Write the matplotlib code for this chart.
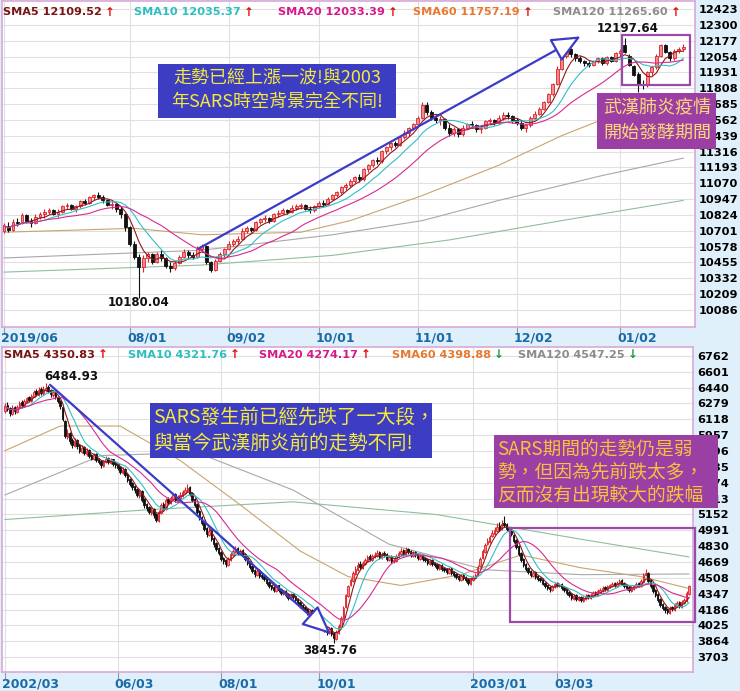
import numpy as np
import pandas as pd
import matplotlib
matplotlib.use('Agg')
import matplotlib.pyplot as plt
from matplotlib.patches import Rectangle, FancyArrowPatch
from matplotlib.transforms import ScaledTranslation

W, H = 740, 691
CJK = ['Noto Sans CJK TC', 'DejaVu Sans']

# 上圖: 2019/06 ~ 2020/01 加權指數 (日K)
top_open = [
    10700, 10740, 10710, 10770, 10760, 10820, 10780, 10760, 10810, 10830,
    10850, 10860, 10830, 10850, 10890, 10900, 10870, 10890, 10930, 10920,
    10960, 10980, 10960, 10940, 10900, 10910, 10870, 10830, 10730, 10600,
    10500, 10420, 10490, 10520, 10460, 10520, 10490, 10430, 10410, 10450,
    10500, 10540, 10510, 10500, 10560, 10580, 10460, 10400, 10470, 10520,
    10560, 10600, 10620, 10640, 10700, 10720, 10710, 10770, 10790, 10800,
    10780, 10830, 10840, 10860, 10850, 10880, 10890, 10900, 10870, 10860,
    10890, 10920, 10910, 10950, 10980, 11000, 11040, 11060, 11090, 11120,
    11100, 11180, 11210, 11250, 11240, 11320, 11350, 11380, 11370, 11430,
    11460, 11500, 11530, 11580, 11680, 11620, 11580, 11560, 11570, 11500,
    11460, 11490, 11450, 11500, 11530, 11520, 11490, 11500, 11550, 11560,
    11540, 11580, 11600, 11590, 11560, 11540, 11500, 11520, 11580, 11610,
    11650, 11700, 11760, 11840, 11960, 12060, 12110, 12070, 12040, 12020,
    12000, 11990, 12020, 12040, 12000, 12050, 12020, 12080, 12140, 12060,
    11980, 11920, 11840, 11830, 11930, 11970, 12060, 12140, 12090, 12040,
    12100, 12110]
top_high = [
    10760, 10770, 10790, 10800, 10840, 10830, 10800, 10830, 10850, 10870,
    10880, 10870, 10870, 10900, 10920, 10910, 10900, 10940, 10950, 10970,
    10990, 11000, 10980, 10950, 10930, 10920, 10890, 10840, 10740, 10620,
    10520, 10510, 10540, 10530, 10540, 10550, 10500, 10460, 10470, 10510,
    10560, 10550, 10540, 10580, 10600, 10590, 10470, 10480, 10540, 10570,
    10620, 10640, 10660, 10720, 10740, 10730, 10780, 10800, 10820, 10810,
    10840, 10860, 10880, 10870, 10900, 10910, 10920, 10910, 10890, 10900,
    10930, 10940, 10960, 10990, 11010, 11050, 11070, 11100, 11130, 11140,
    11190, 11220, 11260, 11270, 11330, 11360, 11390, 11400, 11440, 11480,
    11510, 11540, 11590, 11700, 11700, 11640, 11600, 11590, 11580, 11530,
    11510, 11500, 11520, 11540, 11550, 11530, 11520, 11560, 11580, 11570,
    11600, 11620, 11620, 11600, 11580, 11560, 11530, 11590, 11630, 11660,
    11710, 11770, 11850, 11980, 12080, 12130, 12120, 12080, 12060, 12030,
    12020, 12030, 12050, 12050, 12060, 12060, 12090, 12110, 12198, 12070,
    11990, 11930, 11870, 11940, 11980, 12070, 12150, 12150, 12100, 12110,
    12130, 12150]
top_low = [
    10680, 10690, 10700, 10740, 10750, 10760, 10730, 10750, 10790, 10800,
    10830, 10820, 10810, 10840, 10870, 10860, 10850, 10880, 10900, 10910,
    10940, 10950, 10920, 10890, 10870, 10850, 10800, 10700, 10580, 10480,
    10180, 10380, 10460, 10440, 10450, 10470, 10410, 10380, 10400, 10440,
    10490, 10490, 10480, 10490, 10540, 10440, 10380, 10390, 10460, 10500,
    10550, 10580, 10600, 10630, 10680, 10690, 10700, 10750, 10770, 10760,
    10770, 10810, 10830, 10830, 10840, 10860, 10870, 10860, 10840, 10850,
    10880, 10890, 10900, 10940, 10960, 10990, 11020, 11040, 11070, 11080,
    11090, 11160, 11200, 11220, 11230, 11300, 11330, 11350, 11360, 11410,
    11440, 11480, 11510, 11570, 11600, 11560, 11540, 11520, 11480, 11440,
    11440, 11430, 11440, 11490, 11500, 11470, 11460, 11490, 11530, 11520,
    11530, 11560, 11570, 11540, 11520, 11480, 11470, 11510, 11570, 11600,
    11640, 11690, 11750, 11830, 11950, 12040, 12050, 12020, 12000, 11980,
    11970, 11980, 12000, 11990, 11990, 12010, 12010, 12060, 12080, 11980,
    11900, 11780, 11800, 11820, 11910, 11960, 12050, 12080, 12020, 12030,
    12080, 12100]
top_close = [
    10740, 10710, 10770, 10760, 10820, 10780, 10760, 10810, 10830, 10850,
    10860, 10830, 10850, 10890, 10900, 10870, 10890, 10930, 10920, 10960,
    10980, 10960, 10940, 10900, 10910, 10870, 10830, 10730, 10600, 10500,
    10420, 10490, 10520, 10460, 10520, 10490, 10430, 10410, 10450, 10500,
    10540, 10510, 10500, 10560, 10580, 10460, 10400, 10470, 10520, 10560,
    10600, 10620, 10640, 10700, 10720, 10710, 10770, 10790, 10800, 10780,
    10830, 10840, 10860, 10850, 10880, 10890, 10900, 10870, 10860, 10890,
    10920, 10910, 10950, 10980, 11000, 11040, 11060, 11090, 11120, 11100,
    11180, 11210, 11250, 11240, 11320, 11350, 11380, 11370, 11430, 11460,
    11500, 11530, 11580, 11680, 11620, 11580, 11560, 11570, 11500, 11460,
    11490, 11450, 11500, 11530, 11520, 11490, 11500, 11550, 11560, 11540,
    11580, 11600, 11590, 11560, 11540, 11500, 11520, 11580, 11610, 11650,
    11700, 11760, 11840, 11960, 12060, 12110, 12070, 12040, 12020, 12000,
    11990, 12020, 12040, 12000, 12050, 12020, 12080, 12100, 12090, 11990,
    11910, 11840, 11830, 11930, 11970, 12060, 12140, 12090, 12040, 12100,
    12110, 12130]

# 長天期均線 (讀圖取樣: 第幾根K棒, 數值)
top_ma60_idx = [0, 29, 44, 66, 77, 93, 110, 124, 137, 151]
top_ma60 = [10690, 10720, 10670, 10690, 10780, 10975, 11210, 11440, 11620, 11757]
top_ma120_idx = [0, 44, 73, 93, 110, 133, 151]
top_ma120 = [10490, 10550, 10670, 10780, 10937, 11130, 11265]
top_ma240_idx = [0, 44, 73, 99, 124, 151]
top_ma240 = [10380, 10435, 10510, 10630, 10780, 10937]

top_yticks = [12423, 12300, 12177, 12054, 11931, 11808, 11685, 11562, 11439, 11316,
              11193, 11070, 10947, 10824, 10701, 10578, 10455, 10332, 10209, 10086]
top_tick_pos = [0, 28, 50, 70, 92, 114, 137]
top_tick_labels = ['2019/06', '08/01', '09/02', '10/01', '11/01', '12/02', '01/02']

# 下圖: 2002/03 ~ 2003/05 (SARS 期間)
bot_open = [
    6200, 6260, 6230, 6170, 6240, 6190, 6240, 6290, 6250, 6290,
    6340, 6300, 6350, 6410, 6370, 6430, 6380, 6420, 6450, 6420,
    6370, 6400, 6350, 6300, 6240, 6100, 5940, 5980, 5910, 5850,
    5910, 5860, 5790, 5840, 5770, 5810, 5760, 5710, 5770, 5710,
    5690, 5640, 5680, 5730, 5670, 5710, 5670, 5660, 5630, 5570,
    5610, 5560, 5510, 5470, 5440, 5410, 5340, 5390, 5310, 5260,
    5230, 5170, 5210, 5160, 5090, 5170, 5260, 5210, 5310, 5270,
    5310, 5360, 5290, 5320, 5340, 5370, 5390, 5430, 5370, 5310,
    5260, 5190, 5130, 5070, 5010, 4940, 4990, 4910, 4860, 4810,
    4770, 4710, 4690, 4640, 4690, 4740, 4770, 4810, 4750, 4790,
    4750, 4710, 4670, 4630, 4590, 4540, 4590, 4540, 4530, 4510,
    4470, 4430, 4410, 4370, 4430, 4390, 4340, 4370, 4340, 4290,
    4340, 4320, 4290, 4260, 4230, 4210, 4190, 4140, 4180, 4130,
    4090, 4040, 4070, 4030, 3990, 3950, 4000, 3950, 3890, 3950,
    4010, 4100, 4210, 4320, 4430, 4480, 4550, 4590, 4650, 4610,
    4650, 4680, 4730, 4690, 4720, 4730, 4770, 4710, 4760, 4750,
    4690, 4730, 4670, 4680, 4720, 4750, 4790, 4740, 4800, 4780,
    4730, 4770, 4750, 4700, 4740, 4710, 4700, 4650, 4690, 4660,
    4650, 4600, 4640, 4610, 4600, 4560, 4610, 4570, 4550, 4530,
    4490, 4540, 4520, 4500, 4450, 4490, 4510, 4550, 4630, 4710,
    4770, 4850, 4870, 4930, 4950, 4980, 5030, 5000, 5060, 5050,
    5010, 4990, 4940, 4890, 4830, 4760, 4700, 4650, 4610, 4580,
    4530, 4570, 4530, 4510, 4500, 4460, 4430, 4410, 4380, 4410,
    4460, 4420, 4450, 4410, 4390, 4360, 4340, 4290, 4330, 4280,
    4310, 4270, 4290, 4330, 4300, 4320, 4360, 4330, 4360, 4370,
    4410, 4380, 4410, 4420, 4460, 4420, 4450, 4490, 4460, 4430,
    4410, 4370, 4390, 4410, 4460, 4420, 4470, 4540, 4560, 4490,
    4430, 4380, 4340, 4290, 4240, 4210, 4190, 4150, 4210, 4180,
    4220, 4260, 4210, 4250, 4270, 4340]
bot_high = [
    6280, 6290, 6240, 6260, 6250, 6260, 6300, 6310, 6320, 6350,
    6360, 6380, 6420, 6430, 6450, 6450, 6460, 6485, 6470, 6430,
    6420, 6410, 6360, 6310, 6250, 6110, 6020, 5990, 5930, 5930,
    5920, 5870, 5860, 5850, 5830, 5820, 5770, 5780, 5780, 5730,
    5700, 5710, 5750, 5740, 5730, 5720, 5690, 5670, 5640, 5630,
    5620, 5570, 5520, 5480, 5450, 5420, 5410, 5400, 5320, 5270,
    5240, 5230, 5220, 5170, 5200, 5270, 5280, 5320, 5330, 5340,
    5370, 5370, 5350, 5380, 5400, 5430, 5460, 5440, 5380, 5320,
    5270, 5200, 5140, 5080, 5020, 5010, 5000, 4920, 4870, 4820,
    4780, 4720, 4700, 4720, 4770, 4800, 4830, 4820, 4800, 4800,
    4760, 4720, 4680, 4640, 4600, 4600, 4600, 4560, 4540, 4520,
    4480, 4440, 4420, 4440, 4440, 4400, 4380, 4380, 4350, 4350,
    4350, 4330, 4300, 4270, 4240, 4220, 4200, 4190, 4190, 4140,
    4100, 4080, 4080, 4040, 4000, 4010, 4010, 3960, 3980, 4040,
    4120, 4220, 4340, 4440, 4510, 4580, 4630, 4670, 4680, 4680,
    4710, 4740, 4750, 4750, 4770, 4790, 4780, 4770, 4780, 4760,
    4740, 4740, 4710, 4750, 4780, 4810, 4800, 4820, 4810, 4790,
    4780, 4780, 4760, 4750, 4750, 4720, 4710, 4700, 4700, 4670,
    4660, 4650, 4650, 4620, 4610, 4620, 4620, 4580, 4560, 4540,
    4550, 4550, 4530, 4510, 4520, 4540, 4560, 4640, 4720, 4800,
    4860, 4910, 4940, 4990, 5020, 5060, 5080, 5100, 5141, 5060,
    5020, 5000, 4950, 4900, 4840, 4770, 4710, 4660, 4620, 4590,
    4580, 4580, 4540, 4520, 4510, 4470, 4440, 4420, 4440, 4470,
    4470, 4460, 4460, 4420, 4400, 4370, 4350, 4340, 4340, 4320,
    4320, 4320, 4340, 4340, 4350, 4370, 4370, 4390, 4400, 4420,
    4420, 4440, 4450, 4470, 4470, 4480, 4500, 4500, 4470, 4440,
    4420, 4420, 4440, 4470, 4470, 4500, 4560, 4600, 4570, 4500,
    4440, 4390, 4350, 4300, 4250, 4220, 4200, 4220, 4220, 4250,
    4270, 4270, 4280, 4300, 4370, 4440]
bot_low = [
    6180, 6200, 6150, 6160, 6170, 6180, 6220, 6240, 6240, 6280,
    6290, 6290, 6340, 6360, 6360, 6370, 6370, 6400, 6390, 6350,
    6350, 6320, 6280, 6220, 6100, 5930, 5920, 5870, 5830, 5840,
    5820, 5780, 5780, 5760, 5750, 5730, 5700, 5700, 5680, 5660,
    5620, 5630, 5670, 5660, 5660, 5640, 5620, 5600, 5560, 5560,
    5530, 5480, 5440, 5400, 5370, 5330, 5320, 5280, 5220, 5190,
    5160, 5150, 5120, 5070, 5080, 5160, 5200, 5200, 5260, 5260,
    5300, 5280, 5280, 5310, 5330, 5360, 5380, 5340, 5280, 5230,
    5160, 5100, 5040, 4980, 4920, 4930, 4880, 4820, 4780, 4740,
    4680, 4650, 4620, 4630, 4680, 4730, 4760, 4740, 4740, 4720,
    4680, 4640, 4600, 4560, 4520, 4530, 4510, 4500, 4480, 4440,
    4400, 4380, 4360, 4360, 4360, 4330, 4330, 4310, 4280, 4280,
    4290, 4260, 4230, 4200, 4180, 4160, 4130, 4130, 4100, 4060,
    4030, 4020, 4000, 3960, 3930, 3940, 3920, 3846, 3880, 3940,
    4000, 4090, 4200, 4310, 4420, 4470, 4540, 4580, 4600, 4600,
    4640, 4670, 4680, 4680, 4710, 4720, 4700, 4700, 4720, 4680,
    4680, 4660, 4660, 4670, 4710, 4740, 4730, 4730, 4750, 4720,
    4720, 4720, 4690, 4690, 4680, 4670, 4640, 4640, 4630, 4620,
    4590, 4590, 4580, 4570, 4550, 4550, 4540, 4520, 4500, 4480,
    4480, 4490, 4470, 4440, 4440, 4480, 4500, 4540, 4620, 4700,
    4760, 4840, 4860, 4920, 4940, 4970, 4980, 4990, 5020, 4980,
    4960, 4930, 4860, 4800, 4730, 4670, 4620, 4580, 4550, 4520,
    4520, 4500, 4480, 4470, 4430, 4400, 4380, 4360, 4370, 4400,
    4410, 4410, 4380, 4360, 4330, 4310, 4280, 4280, 4270, 4270,
    4260, 4260, 4280, 4290, 4290, 4310, 4320, 4320, 4350, 4360,
    4370, 4370, 4400, 4410, 4410, 4410, 4440, 4430, 4400, 4380,
    4360, 4360, 4380, 4400, 4410, 4410, 4460, 4530, 4460, 4400,
    4350, 4310, 4260, 4210, 4180, 4150, 4140, 4140, 4170, 4170,
    4210, 4200, 4200, 4240, 4260, 4330]
bot_close = [
    6250, 6220, 6180, 6230, 6200, 6240, 6280, 6260, 6300, 6330,
    6310, 6360, 6400, 6380, 6420, 6390, 6430, 6440, 6410, 6380,
    6400, 6350, 6300, 6250, 6120, 5950, 5980, 5900, 5860, 5900,
    5850, 5800, 5830, 5780, 5800, 5750, 5720, 5760, 5700, 5680,
    5650, 5690, 5720, 5680, 5700, 5660, 5650, 5620, 5580, 5600,
    5550, 5500, 5460, 5430, 5400, 5350, 5380, 5300, 5250, 5220,
    5180, 5200, 5150, 5100, 5180, 5250, 5220, 5300, 5280, 5320,
    5350, 5300, 5330, 5350, 5380, 5400, 5420, 5360, 5300, 5250,
    5180, 5120, 5060, 5000, 4950, 4980, 4900, 4850, 4800, 4760,
    4700, 4680, 4650, 4700, 4750, 4780, 4800, 4760, 4780, 4740,
    4700, 4660, 4620, 4580, 4550, 4580, 4530, 4520, 4500, 4460,
    4420, 4400, 4380, 4420, 4380, 4350, 4360, 4330, 4300, 4330,
    4310, 4280, 4250, 4220, 4200, 4180, 4150, 4170, 4120, 4080,
    4050, 4060, 4020, 3980, 3960, 3990, 3940, 3900, 3960, 4020,
    4100, 4200, 4330, 4420, 4490, 4560, 4600, 4640, 4620, 4660,
    4690, 4720, 4700, 4730, 4740, 4760, 4720, 4750, 4740, 4700,
    4720, 4680, 4690, 4730, 4760, 4780, 4750, 4790, 4770, 4740,
    4760, 4740, 4710, 4730, 4700, 4690, 4660, 4680, 4650, 4640,
    4610, 4630, 4600, 4590, 4570, 4600, 4560, 4540, 4520, 4500,
    4530, 4510, 4490, 4460, 4500, 4520, 4540, 4620, 4700, 4780,
    4840, 4880, 4920, 4960, 4990, 5020, 5000, 5050, 5040, 5000,
    4980, 4950, 4880, 4820, 4750, 4690, 4640, 4600, 4570, 4540,
    4560, 4520, 4500, 4490, 4450, 4420, 4400, 4390, 4420, 4450,
    4430, 4440, 4400, 4380, 4350, 4330, 4300, 4320, 4290, 4300,
    4280, 4300, 4320, 4310, 4330, 4350, 4340, 4370, 4380, 4400,
    4390, 4420, 4430, 4450, 4430, 4460, 4480, 4450, 4420, 4400,
    4380, 4400, 4420, 4450, 4430, 4480, 4540, 4560, 4480, 4420,
    4370, 4330, 4280, 4230, 4200, 4180, 4160, 4200, 4190, 4230,
    4250, 4220, 4260, 4280, 4350, 4420]

bot_ma60_idx = [0, 23, 48, 73, 98, 123, 143, 165, 190, 215, 240, 265, 285]
bot_ma60 = [5800, 6050, 6050, 5700, 5250, 4780, 4520, 4430, 4540, 4740, 4610, 4520, 4400]
bot_ma120_idx = [0, 40, 80, 120, 160, 200, 240, 285]
bot_ma120 = [5350, 5750, 5780, 5400, 4850, 4590, 4540, 4547]
bot_ma240_idx = [0, 60, 120, 180, 240, 285]
bot_ma240 = [5100, 5200, 5280, 5150, 4900, 4720]

bot_yticks = [6762, 6601, 6440, 6279, 6118, 5957, 5796, 5635, 5474, 5313,
              5152, 4991, 4830, 4669, 4508, 4347, 4186, 4025, 3864, 3703]
bot_tick_pos = [0, 47, 90, 131, 195, 230]
bot_tick_labels = ['2002/03', '06/03', '08/01', '10/01', '2003/01', '03/03']

top_header = [('SMA5 12109.52', '#7a1414', 3, '↑'), ('SMA10 12035.37', '#2bbfc0', 134, '↑'),
              ('SMA20 12033.39', '#d6198a', 278, '↑'), ('SMA60 11757.19', '#e87830', 413, '↑'),
              ('SMA120 11265.60', '#8c8c8c', 553, '↑')]
bot_header = [('SMA5 4350.83', '#7a1414', 4, '↑'), ('SMA10 4321.76', '#2bbfc0', 128, '↑'),
              ('SMA20 4274.17', '#d6198a', 259, '↑'), ('SMA60 4398.88', '#e87830', 392, '↓'),
              ('SMA120 4547.25', '#8c8c8c', 518, '↓')]

UP_EDGE, UP_FACE, DOWN = '#e0242c', '#f28b90', '#111111'
MA_COLORS = {5: '#8b1a1a', 10: '#30c0c8', 20: '#d82a90', 60: '#c9a46e', 120: '#a8a8a8', 240: '#8fbf9c'}


def fx(px):
    return px / W


def fy(py):
    return 1 - py / H


def draw_candles(ax, o, h, l, c, width):
    o, h, l, c = map(np.asarray, (o, h, l, c))
    x = np.arange(len(c))
    up = c >= o
    ax.vlines(x, l, h, colors=np.where(up, UP_EDGE, DOWN), lw=0.8, zorder=3)
    ax.bar(x[up], (c - o)[up], bottom=o[up], width=width, color=UP_FACE,
           edgecolor=UP_EDGE, lw=0.6, zorder=4)
    ax.bar(x[~up], (o - c)[~up], bottom=c[~up], width=width, color=DOWN,
           edgecolor=DOWN, lw=0.6, zorder=4)
    for n in (5, 10, 20):
        ma = pd.Series(c).rolling(n, min_periods=1).mean()
        ax.plot(x, ma, color=MA_COLORS[n], lw=0.8, zorder=5)


def style_axes(ax, yticks, tick_pos, tick_labels, xlim, ylim, label_dy):
    ax.set_facecolor('white')
    ax.set_xlim(*xlim)
    ax.set_ylim(*ylim)
    ax.set_yticks(yticks)
    ax.yaxis.tick_right()
    ax.tick_params(axis='y', length=0, pad=3, labelsize=8.2)
    for t in ax.get_yticklabels():
        t.set_fontweight('bold')
    ax.set_xticks(tick_pos)
    ax.set_xticklabels([])
    ax.tick_params(axis='x', length=5, color='#999999', width=0.8)
    ax.grid(True, color='#e0e0e0', lw=0.8, zorder=0)
    ax.set_axisbelow(True)
    for s in ax.spines.values():
        s.set_color('#d8a8d8')
        s.set_linewidth(1.2)
    shift = ax.get_xaxis_transform() + ScaledTranslation(-3 / 100, -label_dy / 100, ax.figure.dpi_scale_trans)
    for p, lab in zip(tick_pos, tick_labels):
        ax.text(p, 0, lab, transform=shift, ha='left', va='center', fontsize=9,
                fontweight='bold', color='#1a6aa8', clip_on=False)


def box_text(fig, x0, y0, x1, y1, color, lines, tcolor, size, xs, ys, ha):
    fig.add_artist(Rectangle((fx(x0), fy(y1)), fx(x1) - fx(x0), fy(y0) - fy(y1),
                             transform=fig.transFigure, facecolor=color, edgecolor='none', zorder=6))
    for line, yy in zip(lines, ys):
        fig.text(fx(xs), fy(yy), line, color=tcolor, fontsize=size, family=CJK,
                 ha=ha, va='center', zorder=7)


def outline(fig, x0, y0, x1, y1):
    fig.add_artist(Rectangle((fx(x0), fy(y1)), fx(x1) - fx(x0), fy(y0) - fy(y1),
                             transform=fig.transFigure, facecolor='none', edgecolor='#9b4aa8',
                             lw=1.6, zorder=6))


def arrow(fig, x0, y0, x1, y1):
    fig.add_artist(FancyArrowPatch(
        (fx(x0), fy(y0)), (fx(x1), fy(y1)), transform=fig.transFigure,
        arrowstyle='-|>,head_length=0.9,head_width=0.4', mutation_scale=20,
        edgecolor='#3b3bc8', facecolor='white', lw=1.6, zorder=6))


fig = plt.figure(figsize=(W / 100, H / 100), dpi=100, facecolor='#dff0fa')
ax1 = fig.add_axes([fx(2), fy(327), fx(695) - fx(2), fy(1) - fy(327)])
ax2 = fig.add_axes([fx(2), fy(672), fx(693) - fx(2), fy(347) - fy(672)])

# 上圖
draw_candles(ax1, top_open, top_high, top_low, top_close, 0.65)
ax1.plot(top_ma60_idx, top_ma60, color=MA_COLORS[60], lw=0.8, zorder=2)
ax1.plot(top_ma120_idx, top_ma120, color=MA_COLORS[120], lw=0.8, zorder=2)
ax1.plot(top_ma240_idx, top_ma240, color=MA_COLORS[240], lw=0.8, zorder=2)
style_axes(ax1, top_yticks, top_tick_pos, top_tick_labels, (-0.44, 153.6), (9954, 12485), 11)

# 下圖
draw_candles(ax2, bot_open, bot_high, bot_low, bot_close, 0.6)
ax2.plot(bot_ma60_idx, bot_ma60, color=MA_COLORS[60], lw=0.8, zorder=2)
ax2.plot(bot_ma120_idx, bot_ma120, color=MA_COLORS[120], lw=0.8, zorder=2)
ax2.plot(bot_ma240_idx, bot_ma240, color=MA_COLORS[240], lw=0.8, zorder=2)
style_axes(ax2, bot_yticks, bot_tick_pos, bot_tick_labels, (-1.25, 286.7), (3551, 6853), 12)

# 均線標頭
renderer = fig.canvas.get_renderer()
for items, y in ((top_header, 12), (bot_header, 355)):
    for lab, col, x, arr in items:
        t = fig.text(fx(x), fy(y), lab, color=col, fontsize=8.1, fontweight='bold', va='center')
        w = t.get_window_extent(renderer).width
        fig.text(fx(x + w + 3), fy(y), arr, color='#e01010' if arr == '↑' else '#1a9a3a',
                 fontsize=8.5, fontweight='bold', va='center')

# 高低點標示
for s, x, y in (('12197.64', 628, 28), ('10180.04', 139, 303), ('6484.93', 71, 376), ('3845.76', 330, 651)):
    fig.text(fx(x), fy(y), s, fontsize=8.5, fontweight='bold', ha='center', va='center', color='#111111')

# 註解框與箭頭
arrow(fig, 196, 250, 583, 35)
arrow(fig, 48, 383, 333, 636)
outline(fig, 622, 35, 690, 85)
outline(fig, 510, 528, 695, 622)
box_text(fig, 158, 64, 396, 118, '#3c3dc3', ['走勢已經上漲一波!與2003', '年SARS時空背景完全不同!'],
         '#f4ea3c', 13, 277, [78, 102], 'center')
box_text(fig, 597, 93, 716, 149, '#9b3fa5', ['武漢肺炎疫情', '開始發酵期間'],
         '#fbd77a', 13, 657, [108, 133], 'center')
box_text(fig, 150, 403, 432, 458, '#3c3dc3', ['SARS發生前已經先跌了一大段，', '與當今武漢肺炎前的走勢不同!'],
         '#f4ea3c', 14, 153, [417, 443], 'left')
box_text(fig, 494, 435, 718, 508, '#9a3fa3', ['SARS期間的走勢仍是弱', '勢，但因為先前跌太多，', '反而沒有出現較大的跌幅'],
         '#f8c040', 13.5, 497, [449, 472, 496], 'left')

fig.savefig('out.png', dpi=100, facecolor=fig.get_facecolor())
